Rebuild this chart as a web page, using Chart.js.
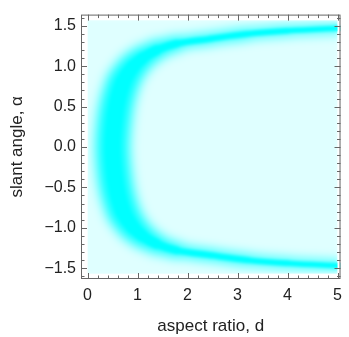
<!DOCTYPE html>
<html>
<head>
<meta charset="utf-8">
<script src="https://cdn.jsdelivr.net/npm/chart.js@4.4.1/dist/chart.umd.min.js"></script>
<style>
  html, body { margin: 0; padding: 0; background: #fff; }
</style>
</head>
<body>
<canvas id="chart" width="349" height="337"></canvas>
<script>
// ridge of the density band (slant angle vs aspect ratio)
const alphaVals = [-1.485, -1.47, -1.44, -1.40, -1.34, -1.28, -1.20, -1.10, -1.00, -0.90, -0.80, -0.60, -0.40, 0.00,
                   0.40, 0.60, 0.80, 0.90, 1.00, 1.10, 1.20, 1.28, 1.34, 1.40, 1.44, 1.47, 1.485];
const dVals = [5.6, 5.0, 4.0, 3.2, 2.45, 1.78, 1.38, 1.10, 0.92, 0.80, 0.71, 0.61, 0.55, 0.50,
               0.55, 0.61, 0.71, 0.80, 0.92, 1.10, 1.38, 1.78, 2.45, 3.2, 4.0, 5.0, 5.6];

const xTicks = [0, 1, 2, 3, 4, 5];
const yTicks = [-1.5, -1.0, -0.5, 0.0, 0.5, 1.0, 1.5];

// region covered by the density plot
const dRange = [0, 5];
const alphaRange = [-1.5708, 1.5708];

const FONT = '"Liberation Sans", Arial, sans-serif';
const CYAN = '#00ffff';
const PALE = '#dfffff';

const ridge = dVals.map((d, i) => ({ x: d, y: alphaVals[i] }));

// band looks wider where the ridge runs up and down
function bandWidth(c, base, extra) {
    const dx = c.p1.x - c.p0.x, dy = c.p1.y - c.p0.y;
    const len = Math.hypot(dx, dy) || 1;
    return base + extra * Math.abs(dy) / len;
}

function plotRect(chart) {
    const { x, y } = chart.scales;
    const l = x.getPixelForValue(dRange[0]), r = x.getPixelForValue(dRange[1]);
    const t = y.getPixelForValue(alphaRange[1]), b = y.getPixelForValue(alphaRange[0]);
    return { l, r, t, b, w: r - l, h: b - t };
}

const bgPlugin = {
    id: 'densityBg',
    beforeDatasetsDraw(chart) {
        const p = plotRect(chart);
        const ctx = chart.ctx;
        ctx.save();
        ctx.fillStyle = PALE;
        ctx.fillRect(p.l, p.t, p.w, p.h);
        ctx.restore();
    }
};

// soften each band layer after it is drawn, like the smooth density plot
const blurPlugin = {
    id: 'blurBand',
    afterDatasetDraw(chart, args) {
        const ds = chart.data.datasets[args.index];
        if (!ds.blur) return;
        const { ctx, canvas, chartArea: a } = chart;
        const p = plotRect(chart);
        const off = document.createElement('canvas');
        off.width = canvas.width;
        off.height = canvas.height;
        const o = off.getContext('2d');
        o.fillStyle = PALE;
        o.fillRect(0, 0, off.width, off.height);
        o.drawImage(canvas, p.l, p.t, p.w, p.h, p.l, p.t, p.w, p.h);
        // carry the right edge outward so the band keeps its strength there
        o.drawImage(canvas, p.r - 1, p.t, 1, p.h, p.r, p.t, 30, p.h);
        ctx.save();
        ctx.beginPath();
        ctx.rect(p.l, p.t, p.w, p.h);
        ctx.clip();
        ctx.filter = `blur(${ds.blur}px)`;
        ctx.drawImage(off, 0, 0);
        ctx.restore();
        // white margin between plotted region and frame
        ctx.save();
        ctx.beginPath();
        ctx.rect(a.left, a.top, a.right - a.left, a.bottom - a.top);
        ctx.rect(p.l, p.t, p.w, p.h);
        ctx.fillStyle = '#fff';
        ctx.fill('evenodd');
        ctx.restore();
    }
};

// Mathematica style frame with inward ticks on all four sides
const framePlugin = {
    id: 'frame',
    afterDatasetsDraw(chart) {
        const { ctx, chartArea: a, scales: { x, y } } = chart;
        ctx.save();
        ctx.strokeStyle = '#666';
        ctx.lineWidth = 1;
        ctx.strokeRect(a.left + 0.5, a.top + 0.5, a.right - a.left - 1, a.bottom - a.top - 1);
        ctx.beginPath();
        for (let k = 0; k <= 25; k++) {
            const px = Math.round(x.getPixelForValue(k * 0.2)) + 0.5;
            const len = k % 5 === 0 ? 6 : 3.5;
            ctx.moveTo(px, a.bottom); ctx.lineTo(px, a.bottom - len);
            ctx.moveTo(px, a.top); ctx.lineTo(px, a.top + len);
        }
        for (let k = -16; k <= 16; k++) {
            const py = Math.round(y.getPixelForValue(k / 10)) + 0.5;
            const len = k % 5 === 0 ? 6 : 3.5;
            ctx.moveTo(a.left, py); ctx.lineTo(a.left + len, py);
            ctx.moveTo(a.right, py); ctx.lineTo(a.right - len, py);
        }
        ctx.stroke();
        ctx.restore();
    }
};

new Chart(document.getElementById('chart'), {
    type: 'scatter',
    data: {
        datasets: [
            {
                // core of the band, drawn last
                data: ridge,
                order: 1,
                showLine: true,
                tension: 0.4,
                pointRadius: 0,
                borderColor: CYAN,
                borderWidth: 12,
                borderCapStyle: 'round',
                borderJoinStyle: 'round',
                blur: 1.5,
                segment: { borderWidth: c => bandWidth(c, 5, 10) }
            },
            {
                // wide glow under it
                data: ridge,
                order: 2,
                showLine: true,
                tension: 0.4,
                pointRadius: 0,
                borderColor: CYAN,
                borderWidth: 24,
                borderCapStyle: 'round',
                borderJoinStyle: 'round',
                blur: 6,
                segment: { borderWidth: c => bandWidth(c, 6, 27) }
            }
        ]
    },
    options: {
        responsive: false,
        animation: false,
        layout: { padding: { top: 10, right: 2, left: 0, bottom: 0 } },
        plugins: { legend: { display: false }, tooltip: { enabled: false } },
        scales: {
            x: {
                type: 'linear',
                min: -0.13,
                max: 5.06,
                afterFit: s => { s.height = 58; },
                afterBuildTicks: s => { s.ticks = xTicks.map(v => ({ value: v })); },
                grid: { display: false, drawTicks: false },
                border: { display: false },
                ticks: {
                    padding: 7,
                    color: '#222',
                    font: { family: FONT, size: 16 },
                    maxRotation: 0,
                    callback: v => String(v)
                },
                title: {
                    display: true,
                    text: 'aspect ratio, d',
                    color: '#222',
                    font: { family: FONT, size: 17 },
                    padding: { top: 0, bottom: 0 }
                }
            },
            y: {
                type: 'linear',
                min: -1.635,
                max: 1.64,
                afterFit: s => { s.width = 81; },
                afterBuildTicks: s => { s.ticks = yTicks.map(v => ({ value: v })); },
                grid: { display: false, drawTicks: false },
                border: { display: false },
                ticks: {
                    padding: 5,
                    color: '#222',
                    font: { family: FONT, size: 16 },
                    callback: v => v.toFixed(1).replace('-', '\u2212')
                },
                title: {
                    display: true,
                    text: 'slant angle, \u03b1',
                    color: '#222',
                    font: { family: FONT, size: 17 },
                    padding: { top: 7, bottom: 0 }
                }
            }
        }
    },
    plugins: [bgPlugin, blurPlugin, framePlugin]
});
</script>
</body>
</html>
